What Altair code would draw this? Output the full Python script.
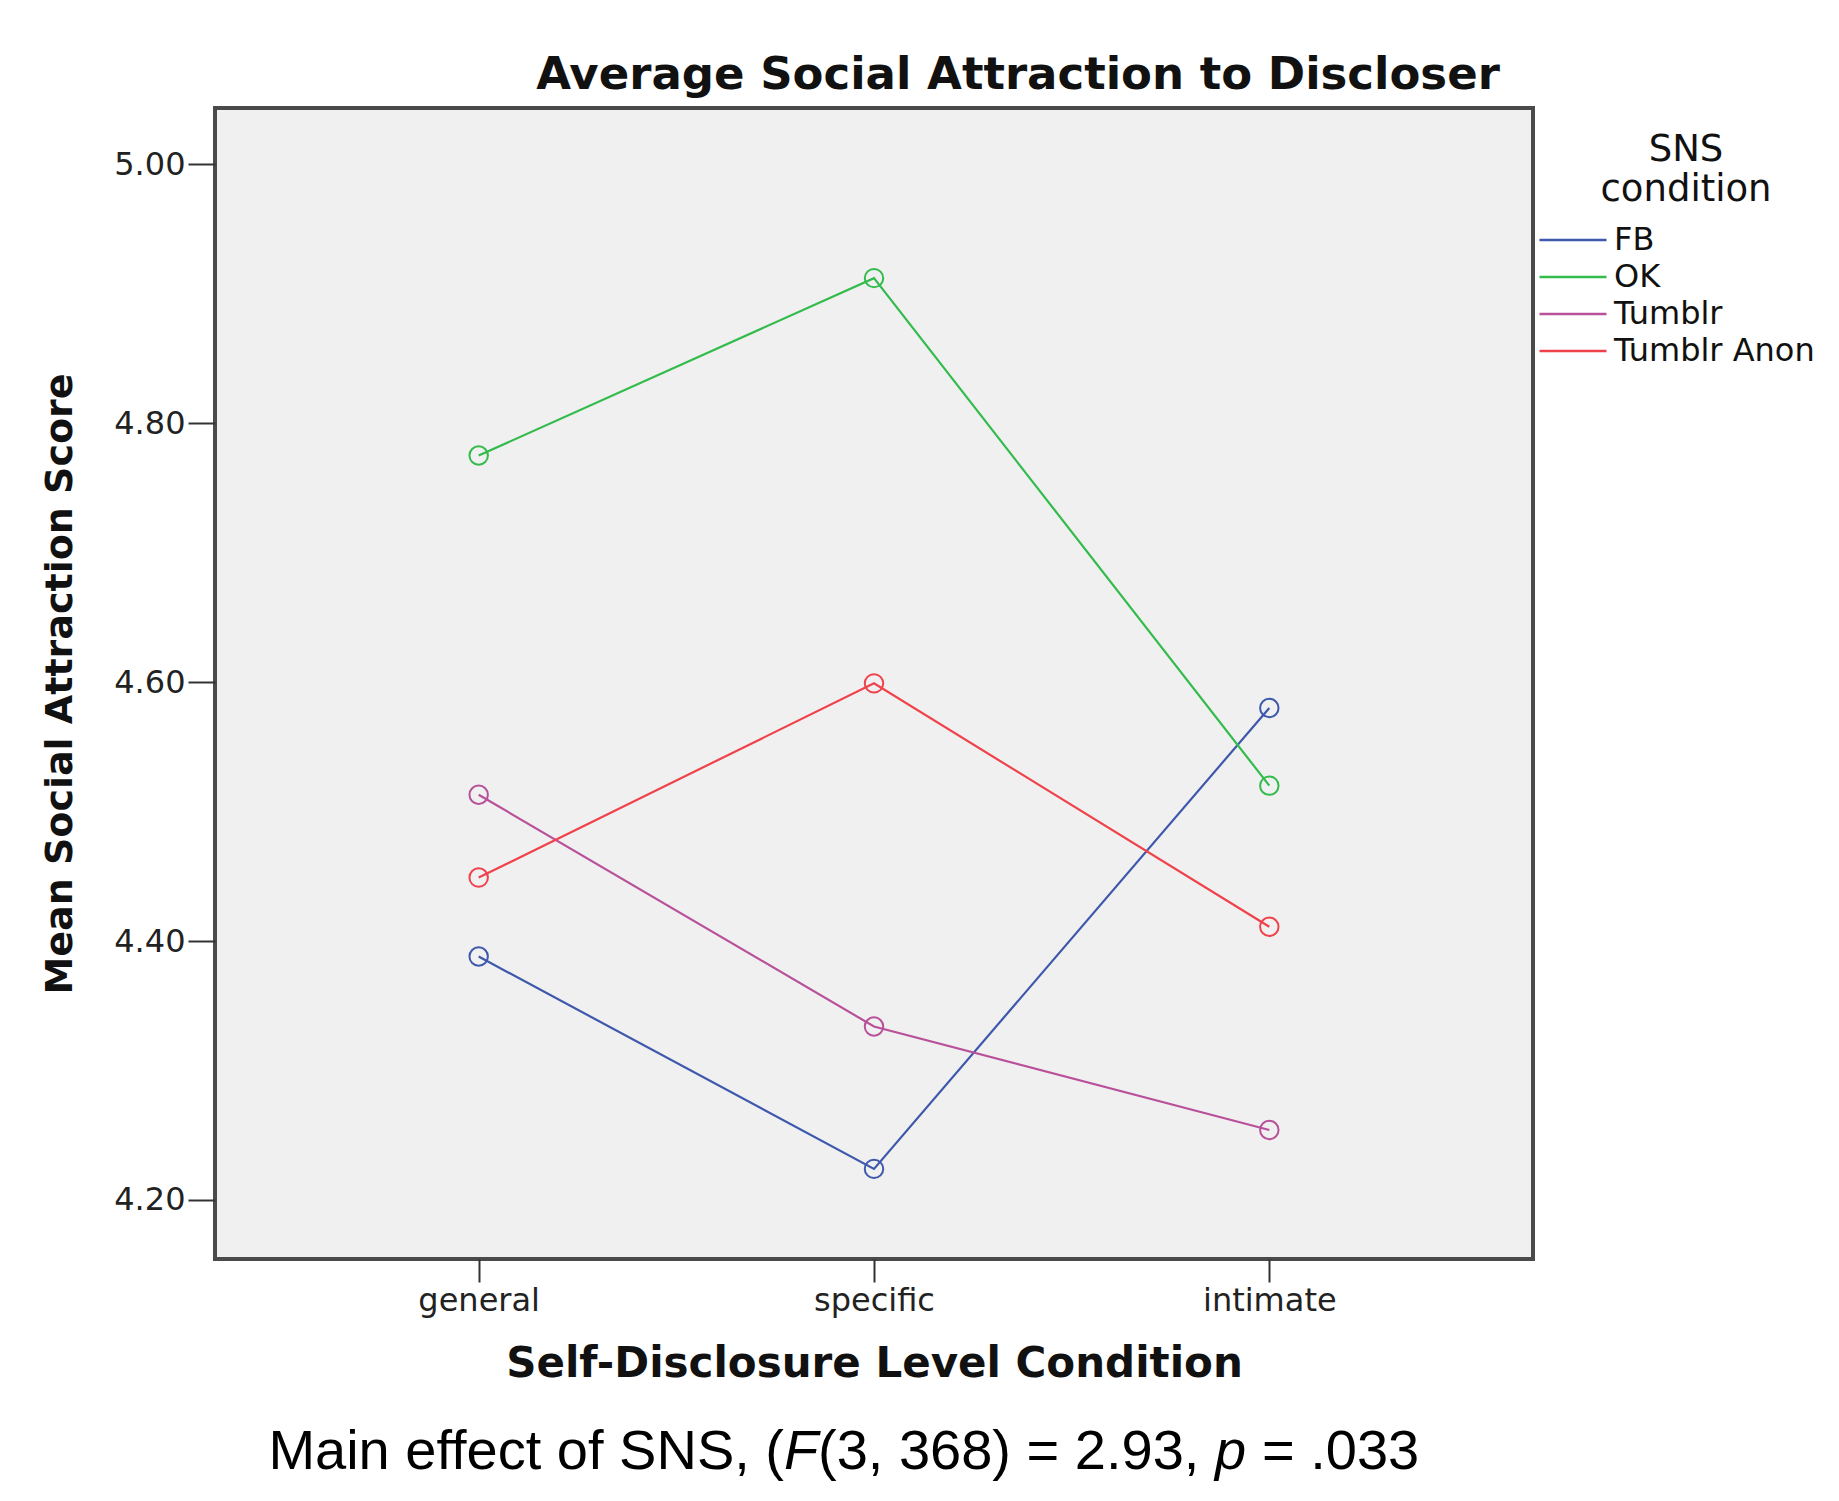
import altair as alt
import pandas as pd

levels = ["general", "specific", "intimate"]
series = ["FB", "OK", "Tumblr", "Tumblr Anon"]
fb = [4.388, 4.224, 4.580]
ok = [4.775, 4.912, 4.520]
tumblr = [4.513, 4.334, 4.254]
tumblr_anon = [4.449, 4.599, 4.411]
colors = ["#3e58ac", "#33bb4c", "#b8519a", "#f0424b"]
y_ticks = [4.2, 4.4, 4.6, 4.8, 5.0]

rows = []
for name, vals in zip(series, [fb, ok, tumblr, tumblr_anon]):
    for lvl, v in zip(levels, vals):
        rows.append({"level": lvl, "score": v, "sns": name})
df = pd.DataFrame(rows)

W, H = 1318, 1151
FONT = "DejaVu Sans"

x = alt.X(
    "level:N",
    sort=levels,
    scale=alt.Scale(type="point", padding=0.667),
    axis=alt.Axis(
        title="Self-Disclosure Level Condition",
        labelAngle=0,
        labelFontSize=32,
        labelFont=FONT,
        labelColor="#222222",
        labelPadding=3,
        tickSize=23,
        tickWidth=2,
        tickColor="#333333",
        domain=False,
        grid=False,
        titleFontSize=42,
        titleFont=FONT,
        titleFontWeight="bold",
        titleColor="#111111",
        titleY=104,
        titleBaseline="middle",
    ),
)
y = alt.Y(
    "score:Q",
    scale=alt.Scale(domain=[4.1544, 5.0434], nice=False, zero=False),
    axis=alt.Axis(
        values=y_ticks,
        format=".2f",
        title="Mean Social Attraction Score",
        labelFontSize=32,
        labelFont=FONT,
        labelColor="#222222",
        labelPadding=3,
        tickSize=27,
        tickWidth=2,
        tickColor="#333333",
        domain=False,
        grid=False,
        titleFontSize=38,
        titleFont=FONT,
        titleFontWeight="bold",
        titleColor="#111111",
        titleX=-155,
        titleBaseline="middle",
    ),
)
color = alt.Color(
    "sns:N",
    sort=series,
    scale=alt.Scale(domain=series, range=colors),
    legend=alt.Legend(
        title=["SNS", "condition"],
        orient="none",
        legendX=1342,
        legendY=24,
        padding=0,
        symbolType="M-3,0L3,0",
        symbolSize=499,
        symbolStrokeWidth=2.5,
        symbolFillColor="transparent",
        labelFontSize=32,
        labelFont=FONT,
        labelColor="#111111",
        labelOffset=25,
        labelLimit=600,
        rowPadding=5,
        titleFontSize=37,
        titleFont=FONT,
        titleFontWeight="normal",
        titleColor="#111111",
        titleAlign="center",
        titleAnchor="middle",
        titleLineHeight=40,
        titlePadding=15,
        titleLimit=600,
    ),
)

base = alt.Chart(df).encode(x=x, y=y, color=color, detail="sns:N")
lines = base.mark_line(strokeWidth=2.2)
points = base.mark_point(shape="circle", filled=False, size=340, strokeWidth=2, opacity=1)

SUB_FONT = "Liberation Sans"
SUB_SIZE = 56
SUB_Y = 1361


def seg(text, xpos, align, italic=False):
    return alt.Chart(pd.DataFrame({"t": [text]})).mark_text(
        align=align,
        baseline="alphabetic",
        font=SUB_FONT,
        fontSize=SUB_SIZE,
        fontStyle="italic" if italic else "normal",
        color="#000000",
    ).encode(text="t:N", x=alt.value(xpos), y=alt.value(SUB_Y))


subtitle = [
    seg("Main effect of SNS, (", 569, "right"),
    seg("F", 569, "left", True),
    seg("(3, 368) = 2.93,", 603, "left"),
    seg("p", 1000, "left", True),
    seg("= .033", 1047, "left"),
]

chart = alt.layer(lines, points, *subtitle).properties(
    width=W,
    height=H,
    autosize=alt.AutoSizeParams(type="none"),
    padding={"left": 207, "top": 100, "right": 295, "bottom": 229},
    title=alt.TitleParams(
        "Average Social Attraction to Discloser",
        font=FONT,
        fontSize=45,
        fontWeight="bold",
        color="#111111",
        anchor="middle",
        dx=144,
        offset=10,
    ),
).configure(
    background="white",
    view=alt.ViewConfig(fill="#f0f0f0", stroke="#4a4a4a", strokeWidth=4),
)

chart.save("out.html", embed_options={"renderer": "svg", "actions": False})
